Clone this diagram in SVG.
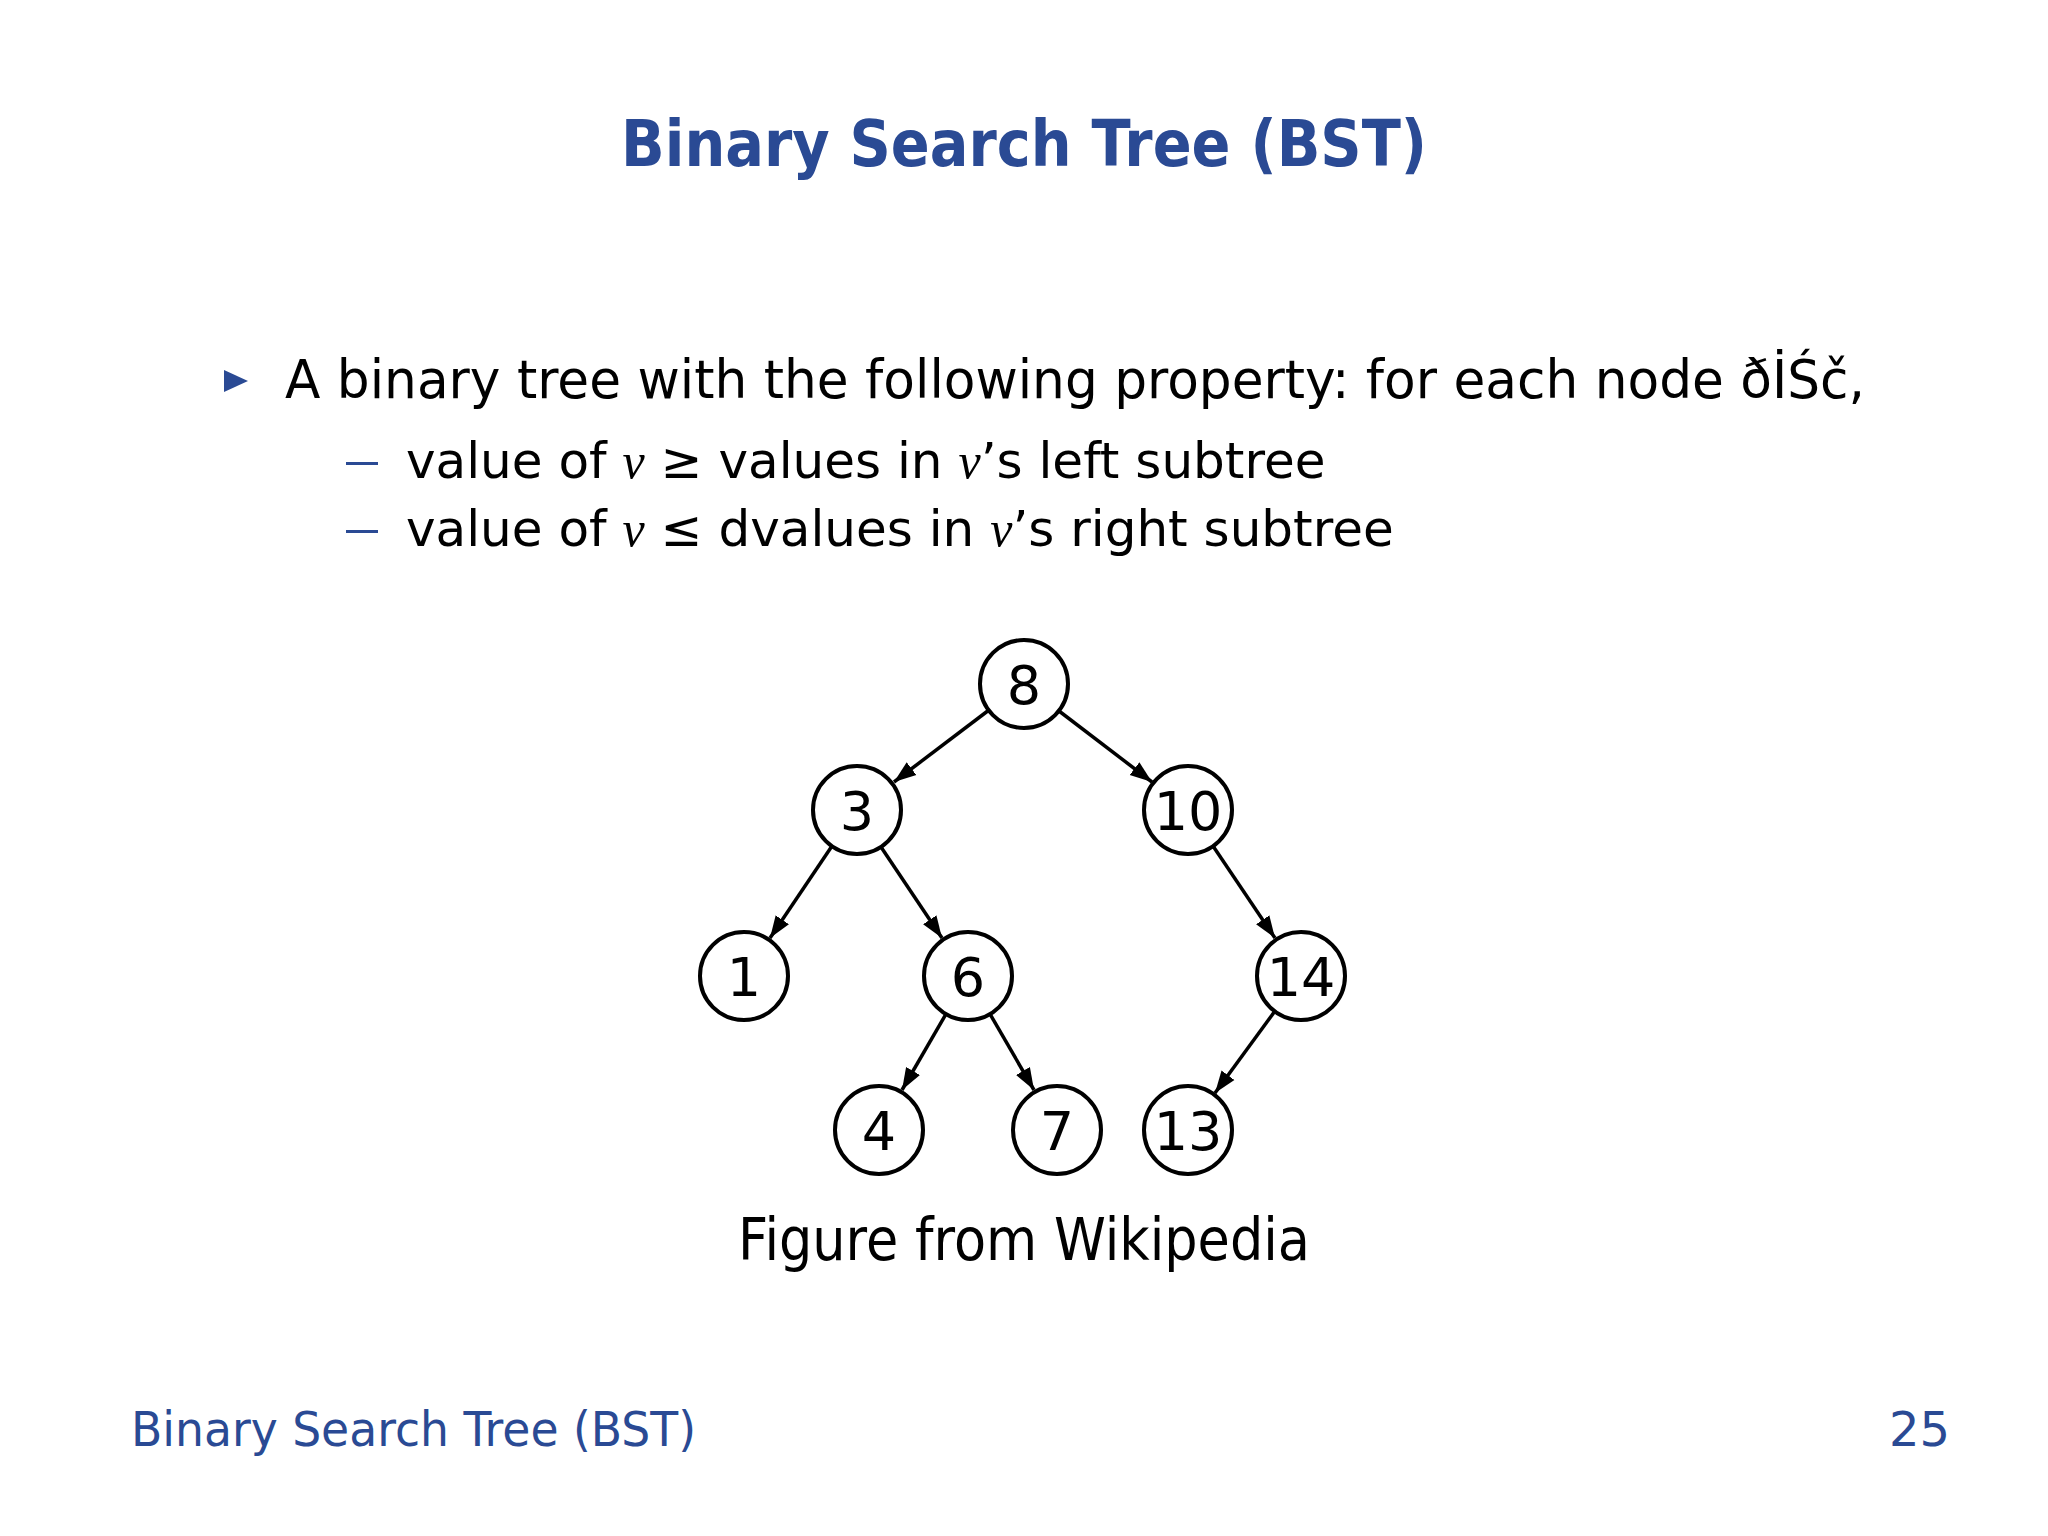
<svg xmlns="http://www.w3.org/2000/svg" width="2048" height="1536" viewBox="0 0 2048 1536">
<style>
.s{font-family:"DejaVu Sans","Liberation Sans",sans-serif;fill:#000}
.b{fill:#2a4a94}
.m{font-family:"Liberation Serif",serif;font-style:italic}
.n circle{fill:#fff;stroke:#000;stroke-width:4}
.n text{font-family:"DejaVu Sans",sans-serif;font-size:54px;text-anchor:middle;fill:#000}
.e line{stroke:#000;stroke-width:3.5}
</style>
<defs><marker id="a" markerUnits="userSpaceOnUse" markerWidth="24" markerHeight="20" refX="22" refY="10" orient="auto"><path d="M0,2 L22,10 L0,18 Z" fill="#000"/></marker></defs>
<rect width="2048" height="1536" fill="#fff"/>
<text class="s b" x="1024" y="166" font-size="64" font-weight="bold" text-anchor="middle" textLength="806" lengthAdjust="spacingAndGlyphs">Binary Search Tree (BST)</text>
<path d="M224,370 L248,381 L224,392 Z" fill="#2a4a94"/>
<text class="s" x="285" y="398" font-size="54" textLength="1580" lengthAdjust="spacingAndGlyphs">A binary tree with the following property: for each node ðİŚč,</text>
<rect x="346" y="462" width="32" height="3" fill="#2a4a94"/>
<text class="s" x="406" y="478" font-size="50">value of <tspan class="m">v</tspan> ≥ values in <tspan class="m">v</tspan>’s left subtree</text>
<rect x="346" y="530" width="32" height="3" fill="#2a4a94"/>
<text class="s" x="406" y="546" font-size="50">value of <tspan class="m">v</tspan> ≤ dvalues in <tspan class="m">v</tspan>’s right subtree</text>
<g class="e" id="edges">
<line x1="989" y1="710" x2="894" y2="782" marker-end="url(#a)"/>
<line x1="1059" y1="711" x2="1152" y2="782" marker-end="url(#a)"/>
<line x1="832" y1="846" x2="770" y2="938" marker-end="url(#a)"/>
<line x1="881" y1="847" x2="942" y2="938" marker-end="url(#a)"/>
<line x1="1213" y1="846" x2="1275" y2="938" marker-end="url(#a)"/>
<line x1="946" y1="1014" x2="902" y2="1090" marker-end="url(#a)"/>
<line x1="990" y1="1014" x2="1034" y2="1090" marker-end="url(#a)"/>
<line x1="1275" y1="1011" x2="1215" y2="1093" marker-end="url(#a)"/>
</g>
<g class="n" id="n8"><circle cx="1024" cy="684" r="44"/><text x="1024" y="704">8</text></g>
<g class="n" id="n3"><circle cx="857" cy="810" r="44"/><text x="857" y="830">3</text></g>
<g class="n" id="n10"><circle cx="1188" cy="810" r="44"/><text x="1188" y="830">10</text></g>
<g class="n" id="n1"><circle cx="744" cy="976" r="44"/><text x="744" y="996">1</text></g>
<g class="n" id="n6"><circle cx="968" cy="976" r="44"/><text x="968" y="996">6</text></g>
<g class="n" id="n14"><circle cx="1301" cy="976" r="44"/><text x="1301" y="996">14</text></g>
<g class="n" id="n4"><circle cx="879" cy="1130" r="44"/><text x="879" y="1150">4</text></g>
<g class="n" id="n7"><circle cx="1057" cy="1130" r="44"/><text x="1057" y="1150">7</text></g>
<g class="n" id="n13"><circle cx="1188" cy="1130" r="44"/><text x="1188" y="1150">13</text></g>
<text class="s" x="1024" y="1260" font-size="58" text-anchor="middle" textLength="572" lengthAdjust="spacingAndGlyphs">Figure from Wikipedia</text>
<text class="s b" x="131" y="1446" font-size="48" textLength="565" lengthAdjust="spacingAndGlyphs">Binary Search Tree (BST)</text>
<text class="s b" x="1950" y="1446" font-size="48" text-anchor="end">25</text>
</svg>
